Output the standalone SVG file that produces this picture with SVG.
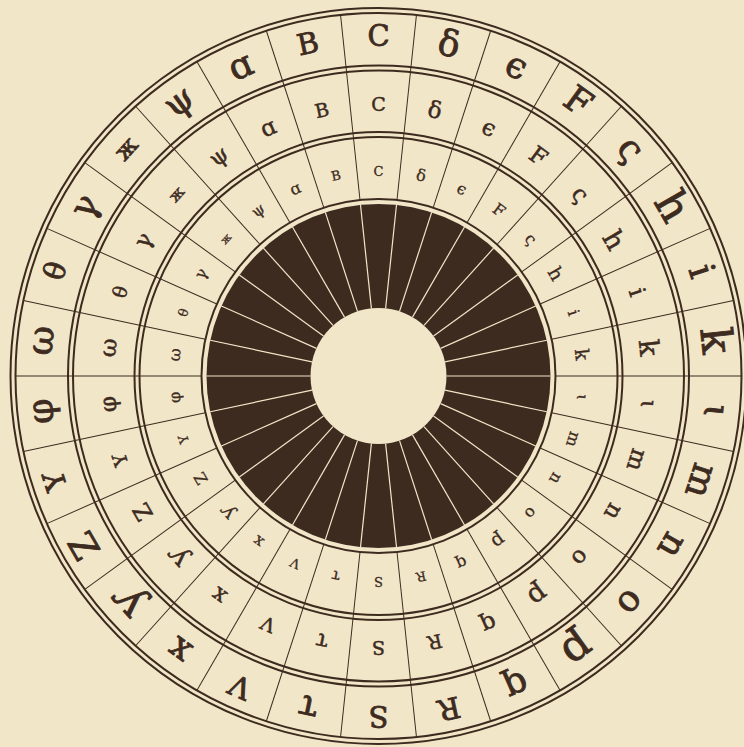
<svg xmlns="http://www.w3.org/2000/svg" xmlns:xlink="http://www.w3.org/1999/xlink" width="744" height="747" viewBox="0 0 744 747">
<style>
.ring{fill:none;stroke:#3d2b1f;stroke-width:2}
.sep{stroke:#3d2b1f;stroke-width:1}
.lsep{stroke:#f2e6c8;stroke-width:1.2}
text{font-family:"DejaVu Serif","Liberation Serif",serif;fill:#3d2b1f;stroke:#3d2b1f;text-anchor:middle;dominant-baseline:central}
.t1{font-size:29px;stroke-width:0.8}
.t1 .lc{font-size:36px}
.t1 .xl{font-size:43px}
.t1 .sm{font-size:24px}
.t2{font-size:19px;stroke-width:0.5}
.t2 .lc{font-size:23px}
.t2 .xl{font-size:27px}
.t2 .sm{font-size:16px}
.t3{font-size:13px;stroke-width:0.3}
.t3 .lc{font-size:16px}
.t3 .xl{font-size:19px}
.t3 .sm{font-size:11px}
</style>
<defs>
<line id="dl" class="sep" x1="378.5" y1="199" x2="378.5" y2="13"/>
<line id="ll" class="lsep" x1="378.5" y1="308" x2="378.5" y2="204"/>
</defs>
<rect width="744" height="747" fill="#f2e6c8"/>
<g id="disk">
<circle cx="378.5" cy="376" r="172" fill="#3d2b1f"/>
<circle cx="378.5" cy="376" r="177" class="ring" stroke-width="1.6"/>
<circle cx="378.5" cy="376" r="68" fill="#f2e6c8"/>
</g>
<g id="rings">
<circle cx="378.5" cy="376" r="368" class="ring"/>
<circle cx="378.5" cy="376" r="363" class="ring"/>
<circle cx="378.5" cy="376" r="310.5" class="ring"/>
<circle cx="378.5" cy="376" r="305.5" class="ring"/>
<circle cx="378.5" cy="376" r="244" class="ring"/>
<circle cx="378.5" cy="376" r="239" class="ring"/>
</g>
<g id="spokes">
<use xlink:href="#dl" transform="rotate(6 378.5 376)"/><use xlink:href="#dl" transform="rotate(18 378.5 376)"/><use xlink:href="#dl" transform="rotate(30 378.5 376)"/><use xlink:href="#dl" transform="rotate(42 378.5 376)"/><use xlink:href="#dl" transform="rotate(54 378.5 376)"/><use xlink:href="#dl" transform="rotate(66 378.5 376)"/><use xlink:href="#dl" transform="rotate(78 378.5 376)"/><use xlink:href="#dl" transform="rotate(90 378.5 376)"/><use xlink:href="#dl" transform="rotate(102 378.5 376)"/><use xlink:href="#dl" transform="rotate(114 378.5 376)"/><use xlink:href="#dl" transform="rotate(126 378.5 376)"/><use xlink:href="#dl" transform="rotate(138 378.5 376)"/><use xlink:href="#dl" transform="rotate(150 378.5 376)"/><use xlink:href="#dl" transform="rotate(162 378.5 376)"/><use xlink:href="#dl" transform="rotate(174 378.5 376)"/><use xlink:href="#dl" transform="rotate(186 378.5 376)"/><use xlink:href="#dl" transform="rotate(198 378.5 376)"/><use xlink:href="#dl" transform="rotate(210 378.5 376)"/><use xlink:href="#dl" transform="rotate(222 378.5 376)"/><use xlink:href="#dl" transform="rotate(234 378.5 376)"/><use xlink:href="#dl" transform="rotate(246 378.5 376)"/><use xlink:href="#dl" transform="rotate(258 378.5 376)"/><use xlink:href="#dl" transform="rotate(270 378.5 376)"/><use xlink:href="#dl" transform="rotate(282 378.5 376)"/><use xlink:href="#dl" transform="rotate(294 378.5 376)"/><use xlink:href="#dl" transform="rotate(306 378.5 376)"/><use xlink:href="#dl" transform="rotate(318 378.5 376)"/><use xlink:href="#dl" transform="rotate(330 378.5 376)"/><use xlink:href="#dl" transform="rotate(342 378.5 376)"/><use xlink:href="#dl" transform="rotate(354 378.5 376)"/>
<use xlink:href="#ll" transform="rotate(6 378.5 376)"/><use xlink:href="#ll" transform="rotate(18 378.5 376)"/><use xlink:href="#ll" transform="rotate(30 378.5 376)"/><use xlink:href="#ll" transform="rotate(42 378.5 376)"/><use xlink:href="#ll" transform="rotate(54 378.5 376)"/><use xlink:href="#ll" transform="rotate(66 378.5 376)"/><use xlink:href="#ll" transform="rotate(78 378.5 376)"/><use xlink:href="#ll" transform="rotate(90 378.5 376)"/><use xlink:href="#ll" transform="rotate(102 378.5 376)"/><use xlink:href="#ll" transform="rotate(114 378.5 376)"/><use xlink:href="#ll" transform="rotate(126 378.5 376)"/><use xlink:href="#ll" transform="rotate(138 378.5 376)"/><use xlink:href="#ll" transform="rotate(150 378.5 376)"/><use xlink:href="#ll" transform="rotate(162 378.5 376)"/><use xlink:href="#ll" transform="rotate(174 378.5 376)"/><use xlink:href="#ll" transform="rotate(186 378.5 376)"/><use xlink:href="#ll" transform="rotate(198 378.5 376)"/><use xlink:href="#ll" transform="rotate(210 378.5 376)"/><use xlink:href="#ll" transform="rotate(222 378.5 376)"/><use xlink:href="#ll" transform="rotate(234 378.5 376)"/><use xlink:href="#ll" transform="rotate(246 378.5 376)"/><use xlink:href="#ll" transform="rotate(258 378.5 376)"/><use xlink:href="#ll" transform="rotate(270 378.5 376)"/><use xlink:href="#ll" transform="rotate(282 378.5 376)"/><use xlink:href="#ll" transform="rotate(294 378.5 376)"/><use xlink:href="#ll" transform="rotate(306 378.5 376)"/><use xlink:href="#ll" transform="rotate(318 378.5 376)"/><use xlink:href="#ll" transform="rotate(330 378.5 376)"/><use xlink:href="#ll" transform="rotate(342 378.5 376)"/><use xlink:href="#ll" transform="rotate(354 378.5 376)"/>
</g>
<g id="outer-letters" class="t1">
<text x="378.5" y="36" transform="rotate(0 378.5 376)">C</text>
<text class="lc" x="378.5" y="36" transform="rotate(12 378.5 376)">δ</text>
<text class="lc" x="378.5" y="36" transform="rotate(24 378.5 376)">ϵ</text>
<text class="lc" x="378.5" y="36" transform="rotate(36 378.5 376)">F</text>
<text class="lc" x="378.5" y="36" transform="rotate(48 378.5 376)">ς</text>
<text class="xl" x="378.5" y="36" transform="rotate(60 378.5 376)">h</text>
<text class="lc" x="378.5" y="36" transform="rotate(72 378.5 376)">i</text>
<text class="xl" x="378.5" y="36" transform="rotate(84 378.5 376)">k</text>
<text class="lc" x="378.5" y="36" transform="rotate(96 378.5 376)">ɩ</text>
<text class="lc" x="378.5" y="36" transform="rotate(108 378.5 376)">m</text>
<text class="lc" x="378.5" y="36" transform="rotate(120 378.5 376)">n</text>
<text class="lc" x="378.5" y="36" transform="rotate(132 378.5 376)">o</text>
<text class="xl" x="378.5" y="36" transform="rotate(144 378.5 376)">p</text>
<text class="lc" x="378.5" y="36" transform="rotate(156 378.5 376)">q</text>
<text x="378.5" y="36" transform="rotate(168 378.5 376)">R</text>
<text x="378.5" y="36" transform="rotate(180 378.5 376)">S</text>
<text class="lc" x="378.5" y="36" transform="rotate(192 378.5 376)">τ</text>
<text x="378.5" y="36" transform="rotate(204 378.5 376)">V</text>
<text class="lc" x="378.5" y="36" transform="rotate(216 378.5 376)">x</text>
<text class="xl" x="378.5" y="36" transform="rotate(228 378.5 376)">ƴ</text>
<text class="lc" x="378.5" y="36" transform="rotate(240 378.5 376)">Z</text>
<text x="378.5" y="36" transform="rotate(252 378.5 376)">Y</text>
<text class="lc" x="378.5" y="36" transform="rotate(264 378.5 376)">φ</text>
<text class="lc" x="378.5" y="36" transform="rotate(276 378.5 376)">ω</text>
<text x="378.5" y="36" transform="rotate(288 378.5 376)">θ</text>
<text class="lc" x="378.5" y="36" transform="rotate(300 378.5 376)">γ</text>
<text class="sm" x="378.5" y="36" transform="rotate(312 378.5 376)">ж</text>
<text class="lc" x="378.5" y="36" transform="rotate(324 378.5 376)">ψ</text>
<text class="lc" x="378.5" y="36" transform="rotate(336 378.5 376)">ɑ</text>
<text x="378.5" y="36" transform="rotate(348 378.5 376)">B</text>
</g>
<g id="middle-letters" class="t2">
<text x="378.5" y="104" transform="rotate(0 378.5 376)">C</text>
<text class="lc" x="378.5" y="104" transform="rotate(12 378.5 376)">δ</text>
<text class="lc" x="378.5" y="104" transform="rotate(24 378.5 376)">ϵ</text>
<text class="lc" x="378.5" y="104" transform="rotate(36 378.5 376)">F</text>
<text class="lc" x="378.5" y="104" transform="rotate(48 378.5 376)">ς</text>
<text class="xl" x="378.5" y="104" transform="rotate(60 378.5 376)">h</text>
<text class="lc" x="378.5" y="104" transform="rotate(72 378.5 376)">i</text>
<text class="xl" x="378.5" y="104" transform="rotate(84 378.5 376)">k</text>
<text class="lc" x="378.5" y="104" transform="rotate(96 378.5 376)">ɩ</text>
<text class="lc" x="378.5" y="104" transform="rotate(108 378.5 376)">m</text>
<text class="lc" x="378.5" y="104" transform="rotate(120 378.5 376)">n</text>
<text class="lc" x="378.5" y="104" transform="rotate(132 378.5 376)">o</text>
<text class="xl" x="378.5" y="104" transform="rotate(144 378.5 376)">p</text>
<text class="lc" x="378.5" y="104" transform="rotate(156 378.5 376)">q</text>
<text x="378.5" y="104" transform="rotate(168 378.5 376)">R</text>
<text x="378.5" y="104" transform="rotate(180 378.5 376)">S</text>
<text class="lc" x="378.5" y="104" transform="rotate(192 378.5 376)">τ</text>
<text x="378.5" y="104" transform="rotate(204 378.5 376)">V</text>
<text class="lc" x="378.5" y="104" transform="rotate(216 378.5 376)">x</text>
<text class="xl" x="378.5" y="104" transform="rotate(228 378.5 376)">ƴ</text>
<text class="lc" x="378.5" y="104" transform="rotate(240 378.5 376)">Z</text>
<text x="378.5" y="104" transform="rotate(252 378.5 376)">Y</text>
<text class="lc" x="378.5" y="104" transform="rotate(264 378.5 376)">φ</text>
<text class="lc" x="378.5" y="104" transform="rotate(276 378.5 376)">ω</text>
<text x="378.5" y="104" transform="rotate(288 378.5 376)">θ</text>
<text class="lc" x="378.5" y="104" transform="rotate(300 378.5 376)">γ</text>
<text class="sm" x="378.5" y="104" transform="rotate(312 378.5 376)">ж</text>
<text class="lc" x="378.5" y="104" transform="rotate(324 378.5 376)">ψ</text>
<text class="lc" x="378.5" y="104" transform="rotate(336 378.5 376)">ɑ</text>
<text x="378.5" y="104" transform="rotate(348 378.5 376)">B</text>
</g>
<g id="inner-letters" class="t3">
<text x="378.5" y="171" transform="rotate(0 378.5 376)">C</text>
<text class="lc" x="378.5" y="171" transform="rotate(12 378.5 376)">δ</text>
<text class="lc" x="378.5" y="171" transform="rotate(24 378.5 376)">ϵ</text>
<text class="lc" x="378.5" y="171" transform="rotate(36 378.5 376)">F</text>
<text class="lc" x="378.5" y="171" transform="rotate(48 378.5 376)">ς</text>
<text class="xl" x="378.5" y="171" transform="rotate(60 378.5 376)">h</text>
<text class="lc" x="378.5" y="171" transform="rotate(72 378.5 376)">i</text>
<text class="xl" x="378.5" y="171" transform="rotate(84 378.5 376)">k</text>
<text class="lc" x="378.5" y="171" transform="rotate(96 378.5 376)">ɩ</text>
<text class="lc" x="378.5" y="171" transform="rotate(108 378.5 376)">m</text>
<text class="lc" x="378.5" y="171" transform="rotate(120 378.5 376)">n</text>
<text class="lc" x="378.5" y="171" transform="rotate(132 378.5 376)">o</text>
<text class="xl" x="378.5" y="171" transform="rotate(144 378.5 376)">p</text>
<text class="lc" x="378.5" y="171" transform="rotate(156 378.5 376)">q</text>
<text x="378.5" y="171" transform="rotate(168 378.5 376)">R</text>
<text x="378.5" y="171" transform="rotate(180 378.5 376)">S</text>
<text class="lc" x="378.5" y="171" transform="rotate(192 378.5 376)">τ</text>
<text x="378.5" y="171" transform="rotate(204 378.5 376)">V</text>
<text class="lc" x="378.5" y="171" transform="rotate(216 378.5 376)">x</text>
<text class="xl" x="378.5" y="171" transform="rotate(228 378.5 376)">ƴ</text>
<text class="lc" x="378.5" y="171" transform="rotate(240 378.5 376)">Z</text>
<text x="378.5" y="171" transform="rotate(252 378.5 376)">Y</text>
<text class="lc" x="378.5" y="171" transform="rotate(264 378.5 376)">φ</text>
<text class="lc" x="378.5" y="171" transform="rotate(276 378.5 376)">ω</text>
<text x="378.5" y="171" transform="rotate(288 378.5 376)">θ</text>
<text class="lc" x="378.5" y="171" transform="rotate(300 378.5 376)">γ</text>
<text class="sm" x="378.5" y="171" transform="rotate(312 378.5 376)">ж</text>
<text class="lc" x="378.5" y="171" transform="rotate(324 378.5 376)">ψ</text>
<text class="lc" x="378.5" y="171" transform="rotate(336 378.5 376)">ɑ</text>
<text x="378.5" y="171" transform="rotate(348 378.5 376)">B</text>
</g>
</svg>
